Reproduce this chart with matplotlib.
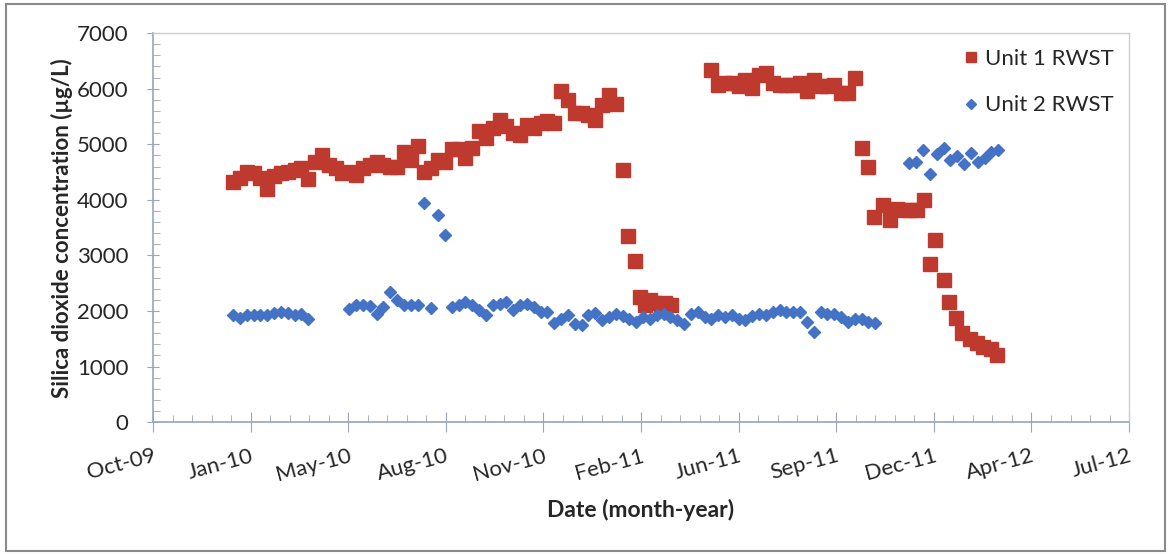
import pandas as pd
import matplotlib
matplotlib.use('Agg')
import matplotlib.pyplot as plt
import matplotlib.dates as mdates
from matplotlib.patches import Rectangle
from matplotlib.ticker import MultipleLocator, FixedLocator

plt.rcParams['font.family'] = ['Lato', 'DejaVu Sans']

# Unit 1 RWST silica results (ug/L)
unit1_dates = [
    '2010-01-04', '2010-01-11', '2010-01-18', '2010-01-25', '2010-02-01', '2010-02-08', '2010-02-15', '2010-02-22',
    '2010-03-01', '2010-03-08', '2010-03-15', '2010-03-22', '2010-03-29', '2010-04-05', '2010-04-12', '2010-04-19',
    '2010-04-26', '2010-05-03', '2010-05-10', '2010-05-17', '2010-05-24', '2010-05-31', '2010-06-07', '2010-06-14',
    '2010-06-21', '2010-06-28', '2010-07-05', '2010-07-12', '2010-07-19', '2010-07-26', '2010-08-02', '2010-08-09',
    '2010-08-16', '2010-08-23', '2010-08-30', '2010-09-06', '2010-09-13', '2010-09-20', '2010-09-27', '2010-10-04',
    '2010-10-11', '2010-10-18', '2010-10-25', '2010-11-01', '2010-11-08', '2010-11-15', '2010-11-22', '2010-11-29',
    '2010-12-06', '2010-12-13', '2010-12-20', '2010-12-27', '2011-01-03', '2011-01-10', '2011-01-17', '2011-01-24',
    '2011-01-31',
    '2011-02-07', '2011-02-13', '2011-02-20', '2011-02-25', '2011-03-02', '2011-03-07', '2011-03-12', '2011-03-18',
    '2011-03-23', '2011-03-29',
    '2011-05-09', '2011-05-16', '2011-05-23', '2011-05-30', '2011-06-06', '2011-06-13', '2011-06-20', '2011-06-27',
    '2011-07-04', '2011-07-11', '2011-07-18', '2011-07-25', '2011-08-01', '2011-08-08', '2011-08-15', '2011-08-22',
    '2011-08-29', '2011-09-05', '2011-09-12', '2011-09-19', '2011-09-26', '2011-10-03', '2011-10-10', '2011-10-17',
    '2011-10-23', '2011-11-01', '2011-11-08', '2011-11-15', '2011-11-22', '2011-11-29', '2011-12-06', '2011-12-13',
    '2011-12-19', '2011-12-24', '2012-01-02', '2012-01-07', '2012-01-15', '2012-01-21', '2012-01-29', '2012-02-05',
    '2012-02-11', '2012-02-20', '2012-02-26',
]
unit1_silica = [
    4330, 4390, 4500, 4480, 4390, 4190, 4430, 4480, 4500, 4540, 4570, 4370, 4690, 4810, 4630, 4570,
    4480, 4500, 4450, 4570, 4630, 4690, 4630, 4600, 4600, 4870, 4720, 4970, 4500, 4570, 4720, 4690,
    4910, 4910, 4750, 4940, 5230, 5110, 5290, 5440, 5320, 5200, 5170, 5350, 5290, 5380, 5410, 5380,
    5950, 5800, 5560, 5560, 5530, 5440, 5710, 5890, 5720,
    4540, 3350, 2900, 2250, 2100, 2200, 2150, 2100, 2150, 2100,
    6340, 6070, 6100, 6100, 6050, 6160, 6020, 6250, 6280, 6100, 6070, 6070, 6070, 6100, 5950, 6160,
    6040, 6040, 6070, 5920, 5920, 6190, 4930, 4600,
    3700, 3910, 3640, 3840, 3810, 3810, 3810, 4000, 2840, 3270, 2560, 2160, 1870, 1600, 1500, 1420,
    1360, 1320, 1210,
]

# Unit 2 RWST silica results (ug/L)
unit2_dates = [
    '2010-01-04', '2010-01-11', '2010-01-18', '2010-01-25', '2010-02-01', '2010-02-08', '2010-02-15', '2010-02-22',
    '2010-03-01', '2010-03-08', '2010-03-15', '2010-03-22',
    '2010-05-03', '2010-05-10', '2010-05-17', '2010-05-24', '2010-05-31', '2010-06-07', '2010-06-14', '2010-06-21',
    '2010-06-28', '2010-07-05', '2010-07-12', '2010-07-19', '2010-07-26', '2010-08-02', '2010-08-09', '2010-08-16',
    '2010-08-23', '2010-08-30', '2010-09-06', '2010-09-13', '2010-09-20', '2010-09-27', '2010-10-04', '2010-10-11',
    '2010-10-18', '2010-10-25', '2010-11-01', '2010-11-08', '2010-11-15', '2010-11-22', '2010-11-29', '2010-12-06',
    '2010-12-13', '2010-12-20', '2010-12-27', '2011-01-03', '2011-01-10', '2011-01-17', '2011-01-24', '2011-01-31',
    '2011-02-07', '2011-02-14', '2011-02-21', '2011-02-28', '2011-03-07', '2011-03-14', '2011-03-21', '2011-03-28',
    '2011-04-04', '2011-04-11', '2011-04-18', '2011-04-25', '2011-05-02', '2011-05-09', '2011-05-16', '2011-05-23',
    '2011-05-30', '2011-06-06', '2011-06-13', '2011-06-20', '2011-06-27', '2011-07-04', '2011-07-11', '2011-07-18',
    '2011-07-25', '2011-08-01', '2011-08-08', '2011-08-15', '2011-08-22', '2011-08-29', '2011-09-05', '2011-09-12',
    '2011-09-19', '2011-09-26', '2011-10-03', '2011-10-10', '2011-10-17', '2011-10-24',
    '2011-11-28', '2011-12-05', '2011-12-12', '2011-12-19', '2011-12-26', '2012-01-02', '2012-01-09', '2012-01-16',
    '2012-01-23', '2012-01-30', '2012-02-06', '2012-02-13', '2012-02-20', '2012-02-27',
]
unit2_silica = [
    1930, 1880, 1930, 1920, 1920, 1930, 1960, 1980, 1960, 1930, 1940, 1860,
    2040, 2100, 2100, 2090, 1950, 2080, 2350, 2200, 2110, 2110, 2110, 3950, 2060, 3720, 3370, 2080,
    2110, 2170, 2110, 2020, 1920, 2100, 2130, 2160, 2020, 2100, 2130, 2070, 1980, 1980, 1780, 1860,
    1920, 1770, 1740, 1920, 1960, 1830, 1890, 1950, 1910, 1860, 1800, 1890, 1860, 1920, 1950, 1890,
    1830, 1770, 1950, 1980, 1890, 1860, 1920, 1890, 1920, 1860, 1830, 1910, 1950, 1920, 1980, 2010,
    1990, 1980, 1990, 1800, 1630, 1990, 1950, 1950, 1890, 1800, 1860, 1860, 1810, 1780,
    4670, 4680, 4890, 4470, 4820, 4930, 4710, 4790, 4640, 4840, 4690, 4750, 4860, 4890,
]

x_start = pd.Timestamp('2009-10-14')
x_end = pd.Timestamp('2012-07-10')

axis_color = '#9aa4bb'
text_color = '#262626'

fig = plt.figure(figsize=(11.68, 5.54), dpi=100)
ax = fig.add_axes([0.131, 0.238, 0.8357, 0.7022])

ax.plot(pd.to_datetime(unit1_dates), unit1_silica, linestyle='none', marker='s',
        markersize=9.5, color='#be3a2e', label='Unit 1 RWST')
ax.plot(pd.to_datetime(unit2_dates), unit2_silica, linestyle='none', marker='D',
        markersize=5.8, color='#4472c4', label='Unit 2 RWST')

ax.set_xlim(x_start, x_end)
ax.set_ylim(0, 7000)

# date axis with a 100-day major unit and 20-day minor unit
ax.xaxis.set_major_locator(FixedLocator(mdates.date2num(pd.date_range(x_start, x_end, freq='100D'))))
ax.xaxis.set_minor_locator(FixedLocator(mdates.date2num(pd.date_range(x_start, x_end, freq='20D'))))
ax.xaxis.set_major_formatter(mdates.DateFormatter('%b-%y'))
ax.yaxis.set_major_locator(MultipleLocator(1000))
ax.yaxis.set_minor_locator(MultipleLocator(200))

ax.tick_params(axis='both', which='major', direction='inout', color=axis_color,
               labelsize=16, labelcolor=text_color)
ax.tick_params(axis='x', which='major', length=14, pad=10)
ax.tick_params(axis='y', which='major', length=9, pad=13)
ax.tick_params(axis='both', which='minor', direction='in', length=5, color=axis_color)
for lab in ax.get_xticklabels():
    lab.set_rotation(15)
    lab.set_rotation_mode('anchor')
    lab.set_ha('right')
    lab.set_va('top')

for side in ('left', 'bottom'):
    ax.spines[side].set_color(axis_color)
    ax.spines[side].set_linewidth(1.2)
for side in ('top', 'right'):
    ax.spines[side].set_color('#cfcfcf')
    ax.spines[side].set_linewidth(1.0)

ax.set_ylabel('Silica dioxide concentration (µg/L)', fontsize=16, fontweight='bold',
              color=text_color, labelpad=3)
ax.set_xlabel('Date (month-year)', fontsize=16.5, fontweight='bold', color=text_color, labelpad=10)

ax.legend(loc='upper right', frameon=False, fontsize=16, labelspacing=1.2,
          handlelength=0.6, handletextpad=0.3, markerscale=0.8, labelcolor=text_color,
          borderaxespad=0.3)

# chart area border
fig.patches.append(Rectangle((0.0051, 0.0054), 0.9923, 0.9874, transform=fig.transFigure,
                             fill=False, edgecolor='#8a8a8a', linewidth=1.5))

fig.savefig('out.png', dpi=100)
